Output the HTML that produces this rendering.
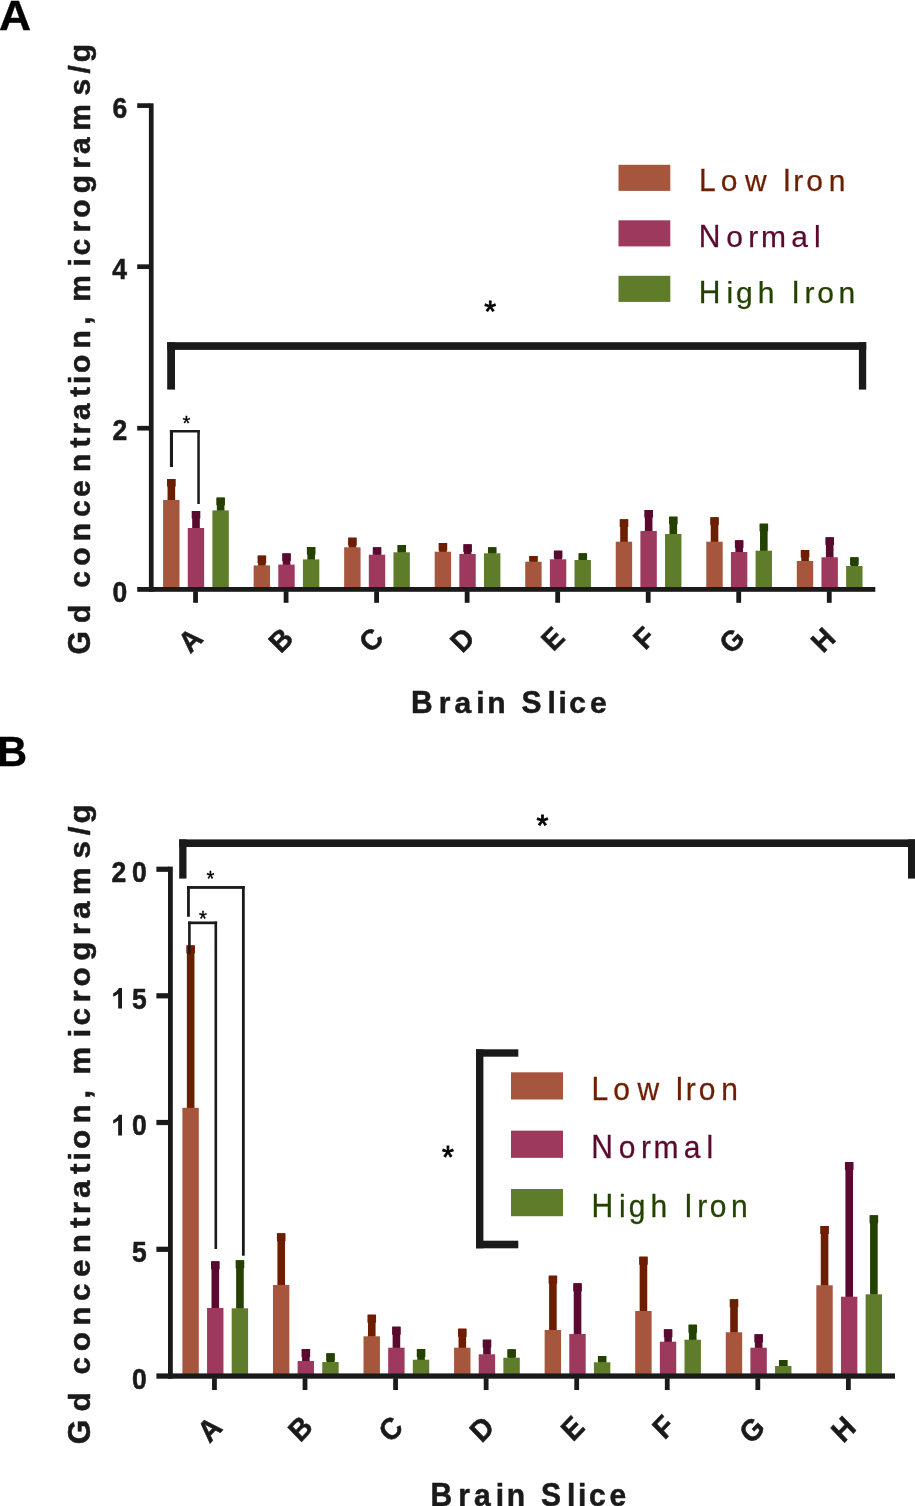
<!DOCTYPE html>
<html><head><meta charset="utf-8"><title>Figure</title>
<style>
html,body{margin:0;padding:0;background:#fff;}
body{width:915px;height:1506px;overflow:hidden;font-family:"Liberation Sans",sans-serif;}
svg{display:block;will-change:transform;}
svg text{font-family:"Liberation Sans",sans-serif;white-space:pre;}
</style></head><body>
<svg width="915" height="1506" viewBox="0 0 915 1506">
<rect x="0" y="0" width="915" height="1506" fill="#ffffff"/>
<rect x="148.90" y="103.30" width="4.70" height="488.50" fill="#1a1a1a"/>
<rect x="137.20" y="103.25" width="12.70" height="4.70" fill="#1a1a1a"/>
<rect x="137.20" y="264.35" width="12.70" height="4.70" fill="#1a1a1a"/>
<rect x="137.20" y="425.85" width="12.70" height="4.70" fill="#1a1a1a"/>
<rect x="167.55" y="479.00" width="7.60" height="21.50" fill="#6E1E00"/>
<rect x="167.05" y="479.00" width="8.60" height="7.60" fill="#6E1E00"/>
<rect x="163.10" y="500.00" width="16.40" height="87.50" fill="#A5563D"/>
<rect x="192.20" y="511.00" width="7.60" height="17.50" fill="#5A0A2E"/>
<rect x="191.70" y="511.00" width="8.60" height="7.60" fill="#5A0A2E"/>
<rect x="187.75" y="528.00" width="16.40" height="59.50" fill="#9E395E"/>
<rect x="216.85" y="497.60" width="7.60" height="13.30" fill="#244100"/>
<rect x="216.35" y="497.60" width="8.60" height="7.60" fill="#244100"/>
<rect x="212.40" y="510.40" width="16.40" height="77.10" fill="#5E7C2A"/>
<rect x="193.15" y="591.30" width="4.80" height="11.50" fill="#1a1a1a"/>
<rect x="258.08" y="555.60" width="7.60" height="10.30" fill="#6E1E00"/>
<rect x="257.58" y="555.60" width="8.60" height="7.60" fill="#6E1E00"/>
<rect x="253.63" y="565.40" width="16.40" height="22.10" fill="#A5563D"/>
<rect x="282.73" y="553.40" width="7.60" height="11.70" fill="#5A0A2E"/>
<rect x="282.23" y="553.40" width="8.60" height="7.60" fill="#5A0A2E"/>
<rect x="278.28" y="564.60" width="16.40" height="22.90" fill="#9E395E"/>
<rect x="307.38" y="547.00" width="7.60" height="12.90" fill="#244100"/>
<rect x="306.88" y="547.00" width="8.60" height="7.60" fill="#244100"/>
<rect x="302.93" y="559.40" width="16.40" height="28.10" fill="#5E7C2A"/>
<rect x="283.68" y="591.30" width="4.80" height="11.50" fill="#1a1a1a"/>
<rect x="348.61" y="537.70" width="7.60" height="10.10" fill="#6E1E00"/>
<rect x="348.11" y="537.70" width="8.60" height="7.60" fill="#6E1E00"/>
<rect x="344.16" y="547.30" width="16.40" height="40.20" fill="#A5563D"/>
<rect x="373.26" y="547.30" width="7.60" height="7.90" fill="#5A0A2E"/>
<rect x="372.76" y="547.30" width="8.60" height="7.40" fill="#5A0A2E"/>
<rect x="368.81" y="554.70" width="16.40" height="32.80" fill="#9E395E"/>
<rect x="397.91" y="545.00" width="7.60" height="7.80" fill="#244100"/>
<rect x="397.41" y="545.00" width="8.60" height="7.30" fill="#244100"/>
<rect x="393.46" y="552.30" width="16.40" height="35.20" fill="#5E7C2A"/>
<rect x="374.21" y="591.30" width="4.80" height="11.50" fill="#1a1a1a"/>
<rect x="439.14" y="543.00" width="7.60" height="9.20" fill="#6E1E00"/>
<rect x="438.64" y="543.00" width="8.60" height="7.60" fill="#6E1E00"/>
<rect x="434.69" y="551.70" width="16.40" height="35.80" fill="#A5563D"/>
<rect x="463.79" y="544.30" width="7.60" height="10.20" fill="#5A0A2E"/>
<rect x="463.29" y="544.30" width="8.60" height="7.60" fill="#5A0A2E"/>
<rect x="459.34" y="554.00" width="16.40" height="33.50" fill="#9E395E"/>
<rect x="488.44" y="547.30" width="7.60" height="6.50" fill="#244100"/>
<rect x="487.94" y="547.30" width="8.60" height="6.00" fill="#244100"/>
<rect x="483.99" y="553.30" width="16.40" height="34.20" fill="#5E7C2A"/>
<rect x="464.74" y="591.30" width="4.80" height="11.50" fill="#1a1a1a"/>
<rect x="529.67" y="556.00" width="7.60" height="6.20" fill="#6E1E00"/>
<rect x="529.17" y="556.00" width="8.60" height="5.70" fill="#6E1E00"/>
<rect x="525.22" y="561.70" width="16.40" height="25.80" fill="#A5563D"/>
<rect x="554.32" y="550.70" width="7.60" height="9.10" fill="#5A0A2E"/>
<rect x="553.82" y="550.70" width="8.60" height="7.60" fill="#5A0A2E"/>
<rect x="549.87" y="559.30" width="16.40" height="28.20" fill="#9E395E"/>
<rect x="578.97" y="553.30" width="7.60" height="7.20" fill="#244100"/>
<rect x="578.47" y="553.30" width="8.60" height="6.70" fill="#244100"/>
<rect x="574.52" y="560.00" width="16.40" height="27.50" fill="#5E7C2A"/>
<rect x="555.27" y="591.30" width="4.80" height="11.50" fill="#1a1a1a"/>
<rect x="620.20" y="519.30" width="7.60" height="22.90" fill="#6E1E00"/>
<rect x="619.70" y="519.30" width="8.60" height="7.60" fill="#6E1E00"/>
<rect x="615.75" y="541.70" width="16.40" height="45.80" fill="#A5563D"/>
<rect x="644.85" y="510.00" width="7.60" height="21.50" fill="#5A0A2E"/>
<rect x="644.35" y="510.00" width="8.60" height="7.60" fill="#5A0A2E"/>
<rect x="640.40" y="531.00" width="16.40" height="56.50" fill="#9E395E"/>
<rect x="669.50" y="516.70" width="7.60" height="17.80" fill="#244100"/>
<rect x="669.00" y="516.70" width="8.60" height="7.60" fill="#244100"/>
<rect x="665.05" y="534.00" width="16.40" height="53.50" fill="#5E7C2A"/>
<rect x="645.80" y="591.30" width="4.80" height="11.50" fill="#1a1a1a"/>
<rect x="710.73" y="517.30" width="7.60" height="24.90" fill="#6E1E00"/>
<rect x="710.23" y="517.30" width="8.60" height="7.60" fill="#6E1E00"/>
<rect x="706.28" y="541.70" width="16.40" height="45.80" fill="#A5563D"/>
<rect x="735.38" y="540.30" width="7.60" height="12.20" fill="#5A0A2E"/>
<rect x="734.88" y="540.30" width="8.60" height="7.60" fill="#5A0A2E"/>
<rect x="730.93" y="552.00" width="16.40" height="35.50" fill="#9E395E"/>
<rect x="760.03" y="523.70" width="7.60" height="27.50" fill="#244100"/>
<rect x="759.53" y="523.70" width="8.60" height="7.60" fill="#244100"/>
<rect x="755.58" y="550.70" width="16.40" height="36.80" fill="#5E7C2A"/>
<rect x="736.33" y="591.30" width="4.80" height="11.50" fill="#1a1a1a"/>
<rect x="801.26" y="550.00" width="7.60" height="11.50" fill="#6E1E00"/>
<rect x="800.76" y="550.00" width="8.60" height="7.60" fill="#6E1E00"/>
<rect x="796.81" y="561.00" width="16.40" height="26.50" fill="#A5563D"/>
<rect x="825.91" y="537.30" width="7.60" height="20.50" fill="#5A0A2E"/>
<rect x="825.41" y="537.30" width="8.60" height="7.60" fill="#5A0A2E"/>
<rect x="821.46" y="557.30" width="16.40" height="30.20" fill="#9E395E"/>
<rect x="850.56" y="557.30" width="7.60" height="9.20" fill="#244100"/>
<rect x="850.06" y="557.30" width="8.60" height="7.60" fill="#244100"/>
<rect x="846.11" y="566.00" width="16.40" height="21.50" fill="#5E7C2A"/>
<rect x="826.86" y="591.30" width="4.80" height="11.50" fill="#1a1a1a"/>
<rect x="137.20" y="587.00" width="738.10" height="4.80" fill="#1a1a1a"/>
<rect x="167.20" y="342.20" width="699.00" height="7.70" fill="#1a1a1a"/>
<rect x="167.20" y="342.20" width="7.80" height="47.40" fill="#1a1a1a"/>
<rect x="858.90" y="342.20" width="7.30" height="47.40" fill="#1a1a1a"/>
<rect x="169.90" y="430.00" width="29.90" height="2.50" fill="#1a1a1a"/>
<rect x="169.90" y="430.00" width="3.10" height="37.00" fill="#1a1a1a"/>
<rect x="197.30" y="430.00" width="2.50" height="74.00" fill="#1a1a1a"/>
<rect x="168.00" y="866.60" width="4.80" height="512.10" fill="#1a1a1a"/>
<rect x="156.40" y="866.65" width="12.60" height="5.20" fill="#1a1a1a"/>
<rect x="156.40" y="993.20" width="12.60" height="5.20" fill="#1a1a1a"/>
<rect x="156.40" y="1119.90" width="12.60" height="5.20" fill="#1a1a1a"/>
<rect x="156.40" y="1246.70" width="12.60" height="5.20" fill="#1a1a1a"/>
<rect x="186.85" y="945.40" width="7.60" height="162.90" fill="#6E1E00"/>
<rect x="186.35" y="945.40" width="8.60" height="8.00" fill="#6E1E00"/>
<rect x="182.40" y="1107.80" width="16.40" height="266.10" fill="#A5563D"/>
<rect x="211.50" y="1261.30" width="7.60" height="47.20" fill="#5A0A2E"/>
<rect x="211.00" y="1261.30" width="8.60" height="8.00" fill="#5A0A2E"/>
<rect x="207.05" y="1308.00" width="16.40" height="65.90" fill="#9E395E"/>
<rect x="236.15" y="1260.30" width="7.60" height="48.50" fill="#244100"/>
<rect x="235.65" y="1260.30" width="8.60" height="8.00" fill="#244100"/>
<rect x="231.70" y="1308.30" width="16.40" height="65.60" fill="#5E7C2A"/>
<rect x="212.05" y="1378.20" width="4.80" height="11.80" fill="#1a1a1a"/>
<rect x="277.41" y="1233.30" width="7.60" height="52.20" fill="#6E1E00"/>
<rect x="276.91" y="1233.30" width="8.60" height="8.00" fill="#6E1E00"/>
<rect x="272.96" y="1285.00" width="16.40" height="88.90" fill="#A5563D"/>
<rect x="302.06" y="1349.00" width="7.60" height="12.50" fill="#5A0A2E"/>
<rect x="301.56" y="1349.00" width="8.60" height="8.00" fill="#5A0A2E"/>
<rect x="297.61" y="1361.00" width="16.40" height="12.90" fill="#9E395E"/>
<rect x="326.71" y="1353.30" width="7.60" height="9.20" fill="#244100"/>
<rect x="326.21" y="1353.30" width="8.60" height="8.00" fill="#244100"/>
<rect x="322.26" y="1362.00" width="16.40" height="11.90" fill="#5E7C2A"/>
<rect x="302.61" y="1378.20" width="4.80" height="11.80" fill="#1a1a1a"/>
<rect x="367.97" y="1314.70" width="7.60" height="22.10" fill="#6E1E00"/>
<rect x="367.47" y="1314.70" width="8.60" height="8.00" fill="#6E1E00"/>
<rect x="363.52" y="1336.30" width="16.40" height="37.60" fill="#A5563D"/>
<rect x="392.62" y="1326.70" width="7.60" height="21.50" fill="#5A0A2E"/>
<rect x="392.12" y="1326.70" width="8.60" height="8.00" fill="#5A0A2E"/>
<rect x="388.17" y="1347.70" width="16.40" height="26.20" fill="#9E395E"/>
<rect x="417.27" y="1349.00" width="7.60" height="11.20" fill="#244100"/>
<rect x="416.77" y="1349.00" width="8.60" height="8.00" fill="#244100"/>
<rect x="412.82" y="1359.70" width="16.40" height="14.20" fill="#5E7C2A"/>
<rect x="393.17" y="1378.20" width="4.80" height="11.80" fill="#1a1a1a"/>
<rect x="458.53" y="1328.70" width="7.60" height="19.50" fill="#6E1E00"/>
<rect x="458.03" y="1328.70" width="8.60" height="8.00" fill="#6E1E00"/>
<rect x="454.08" y="1347.70" width="16.40" height="26.20" fill="#A5563D"/>
<rect x="483.18" y="1339.70" width="7.60" height="15.10" fill="#5A0A2E"/>
<rect x="482.68" y="1339.70" width="8.60" height="8.00" fill="#5A0A2E"/>
<rect x="478.73" y="1354.30" width="16.40" height="19.60" fill="#9E395E"/>
<rect x="507.83" y="1349.30" width="7.60" height="8.90" fill="#244100"/>
<rect x="507.33" y="1349.30" width="8.60" height="8.00" fill="#244100"/>
<rect x="503.38" y="1357.70" width="16.40" height="16.20" fill="#5E7C2A"/>
<rect x="483.73" y="1378.20" width="4.80" height="11.80" fill="#1a1a1a"/>
<rect x="549.09" y="1275.70" width="7.60" height="54.80" fill="#6E1E00"/>
<rect x="548.59" y="1275.70" width="8.60" height="8.00" fill="#6E1E00"/>
<rect x="544.64" y="1330.00" width="16.40" height="43.90" fill="#A5563D"/>
<rect x="573.74" y="1283.30" width="7.60" height="51.20" fill="#5A0A2E"/>
<rect x="573.24" y="1283.30" width="8.60" height="8.00" fill="#5A0A2E"/>
<rect x="569.29" y="1334.00" width="16.40" height="39.90" fill="#9E395E"/>
<rect x="598.39" y="1356.00" width="7.60" height="6.80" fill="#244100"/>
<rect x="597.89" y="1356.00" width="8.60" height="6.30" fill="#244100"/>
<rect x="593.94" y="1362.30" width="16.40" height="11.60" fill="#5E7C2A"/>
<rect x="574.29" y="1378.20" width="4.80" height="11.80" fill="#1a1a1a"/>
<rect x="639.65" y="1256.70" width="7.60" height="54.80" fill="#6E1E00"/>
<rect x="639.15" y="1256.70" width="8.60" height="8.00" fill="#6E1E00"/>
<rect x="635.20" y="1311.00" width="16.40" height="62.90" fill="#A5563D"/>
<rect x="664.30" y="1329.30" width="7.60" height="12.90" fill="#5A0A2E"/>
<rect x="663.80" y="1329.30" width="8.60" height="8.00" fill="#5A0A2E"/>
<rect x="659.85" y="1341.70" width="16.40" height="32.20" fill="#9E395E"/>
<rect x="688.95" y="1324.70" width="7.60" height="15.50" fill="#244100"/>
<rect x="688.45" y="1324.70" width="8.60" height="8.00" fill="#244100"/>
<rect x="684.50" y="1339.70" width="16.40" height="34.20" fill="#5E7C2A"/>
<rect x="664.85" y="1378.20" width="4.80" height="11.80" fill="#1a1a1a"/>
<rect x="730.21" y="1299.30" width="7.60" height="33.50" fill="#6E1E00"/>
<rect x="729.71" y="1299.30" width="8.60" height="8.00" fill="#6E1E00"/>
<rect x="725.76" y="1332.30" width="16.40" height="41.60" fill="#A5563D"/>
<rect x="754.86" y="1334.30" width="7.60" height="13.90" fill="#5A0A2E"/>
<rect x="754.36" y="1334.30" width="8.60" height="8.00" fill="#5A0A2E"/>
<rect x="750.41" y="1347.70" width="16.40" height="26.20" fill="#9E395E"/>
<rect x="779.51" y="1360.00" width="7.60" height="6.50" fill="#244100"/>
<rect x="779.01" y="1360.00" width="8.60" height="6.00" fill="#244100"/>
<rect x="775.06" y="1366.00" width="16.40" height="7.90" fill="#5E7C2A"/>
<rect x="755.41" y="1378.20" width="4.80" height="11.80" fill="#1a1a1a"/>
<rect x="820.77" y="1226.00" width="7.60" height="59.80" fill="#6E1E00"/>
<rect x="820.27" y="1226.00" width="8.60" height="8.00" fill="#6E1E00"/>
<rect x="816.32" y="1285.30" width="16.40" height="88.60" fill="#A5563D"/>
<rect x="845.42" y="1162.00" width="7.60" height="135.20" fill="#5A0A2E"/>
<rect x="844.92" y="1162.00" width="8.60" height="8.00" fill="#5A0A2E"/>
<rect x="840.97" y="1296.70" width="16.40" height="77.20" fill="#9E395E"/>
<rect x="870.07" y="1215.30" width="7.60" height="79.50" fill="#244100"/>
<rect x="869.57" y="1215.30" width="8.60" height="8.00" fill="#244100"/>
<rect x="865.62" y="1294.30" width="16.40" height="79.60" fill="#5E7C2A"/>
<rect x="845.97" y="1378.20" width="4.80" height="11.80" fill="#1a1a1a"/>
<rect x="156.40" y="1373.40" width="738.60" height="5.30" fill="#1a1a1a"/>
<rect x="179.20" y="839.40" width="735.80" height="7.60" fill="#1a1a1a"/>
<rect x="179.20" y="839.40" width="7.30" height="39.20" fill="#1a1a1a"/>
<rect x="908.00" y="839.40" width="7.00" height="39.20" fill="#1a1a1a"/>
<rect x="187.05" y="886.05" width="57.70" height="2.80" fill="#1a1a1a"/>
<rect x="187.05" y="886.05" width="2.80" height="30.75" fill="#1a1a1a"/>
<rect x="241.95" y="886.05" width="2.80" height="369.65" fill="#1a1a1a"/>
<rect x="188.10" y="921.50" width="29.00" height="2.70" fill="#1a1a1a"/>
<rect x="188.10" y="921.50" width="2.60" height="32.10" fill="#1a1a1a"/>
<rect x="214.50" y="921.50" width="2.60" height="327.50" fill="#1a1a1a"/>
<rect x="476.00" y="1049.30" width="7.40" height="199.00" fill="#1a1a1a"/>
<rect x="476.00" y="1049.30" width="42.30" height="7.40" fill="#1a1a1a"/>
<rect x="476.00" y="1240.70" width="42.30" height="7.60" fill="#1a1a1a"/>
<rect x="618.50" y="164.80" width="51.80" height="26.10" fill="#A5563D"/>
<rect x="511.00" y="1072.30" width="52.00" height="27.20" fill="#A5563D"/>
<rect x="618.50" y="220.30" width="51.80" height="26.10" fill="#9E395E"/>
<rect x="511.00" y="1130.65" width="52.00" height="27.20" fill="#9E395E"/>
<rect x="618.50" y="275.80" width="51.80" height="26.10" fill="#5E7C2A"/>
<rect x="511.00" y="1189.00" width="52.00" height="27.20" fill="#5E7C2A"/>
<text transform="translate(0 191.30) scale(1 1.0400)" x="698.94 782.73" y="0" font-size="30" font-weight="normal" fill="#6E1E00" stroke="#6E1E00" stroke-width="0.25">LI</text>
<text transform="translate(0 191.30) scale(1 1.0000)" x="720.74 744.94 793.21 806.14 828.71" y="0" font-size="30" font-weight="normal" fill="#6E1E00" stroke="#6E1E00" stroke-width="0.25">owron</text>
<text transform="translate(0 1100.30) scale(1 1.0908)" x="591.54 675.33" y="0" font-size="30" font-weight="normal" fill="#6E1E00" stroke="#6E1E00" stroke-width="0.25">LI</text>
<text transform="translate(0 1100.30) scale(1 1.0488)" x="613.34 637.54 685.81 698.74 721.31" y="0" font-size="30" font-weight="normal" fill="#6E1E00" stroke="#6E1E00" stroke-width="0.25">owron</text>
<text transform="translate(0 246.60) scale(1 1.0400)" x="698.74" y="0" font-size="30" font-weight="normal" fill="#5A0A2E" stroke="#5A0A2E" stroke-width="0.25">N</text>
<text transform="translate(0 246.60) scale(1 1.0000)" x="726.14 748.31 761.01 791.23 813.88" y="0" font-size="30" font-weight="normal" fill="#5A0A2E" stroke="#5A0A2E" stroke-width="0.25">ormal</text>
<text transform="translate(0 1157.80) scale(1 1.0908)" x="591.34" y="0" font-size="30" font-weight="normal" fill="#5A0A2E" stroke="#5A0A2E" stroke-width="0.25">N</text>
<text transform="translate(0 1157.80) scale(1 1.0488)" x="618.74 640.91 653.61 683.83 706.48" y="0" font-size="30" font-weight="normal" fill="#5A0A2E" stroke="#5A0A2E" stroke-width="0.25">ormal</text>
<text transform="translate(0 303.00) scale(1 1.0400)" x="698.84 791.63" y="0" font-size="30" font-weight="normal" fill="#244100" stroke="#244100" stroke-width="0.25">HI</text>
<text transform="translate(0 303.00) scale(1 1.0000)" x="726.49 736.04 757.82 804.61 817.14 838.41" y="0" font-size="30" font-weight="normal" fill="#244100" stroke="#244100" stroke-width="0.25">ighron</text>
<text transform="translate(0 1216.90) scale(1 1.0908)" x="591.44 684.23" y="0" font-size="30" font-weight="normal" fill="#244100" stroke="#244100" stroke-width="0.25">HI</text>
<text transform="translate(0 1216.90) scale(1 1.0488)" x="619.09 628.64 650.42 697.21 709.74 731.01" y="0" font-size="30" font-weight="normal" fill="#244100" stroke="#244100" stroke-width="0.25">ighron</text>
<text transform="translate(112.47 117.65) scale(1 1.085)" x="0" y="0" font-size="26.5" font-weight="bold" fill="#1a1a1a" stroke="#1a1a1a" stroke-width="0.5">6</text>
<text transform="translate(112.35 278.80) scale(1 1.085)" x="0" y="0" font-size="26.5" font-weight="bold" fill="#1a1a1a" stroke="#1a1a1a" stroke-width="0.5">4</text>
<text transform="translate(112.55 440.30) scale(1 1.085)" x="0" y="0" font-size="26.5" font-weight="bold" fill="#1a1a1a" stroke="#1a1a1a" stroke-width="0.5">2</text>
<text transform="translate(112.50 601.55) scale(1 1.085)" x="0" y="0" font-size="26.5" font-weight="bold" fill="#1a1a1a" stroke="#1a1a1a" stroke-width="0.5">0</text>
<text transform="translate(131.95 881.60) scale(1 1.14)" x="0" y="0" font-size="26.5" font-weight="bold" fill="#1a1a1a" stroke="#1a1a1a" stroke-width="0.5">0</text>
<text transform="translate(111.50 881.60) scale(1 1.14)" x="0" y="0" font-size="26.5" font-weight="bold" fill="#1a1a1a" stroke="#1a1a1a" stroke-width="0.5">2</text>
<text transform="translate(131.89 1008.60) scale(1 1.14)" x="0" y="0" font-size="26.5" font-weight="bold" fill="#1a1a1a" stroke="#1a1a1a" stroke-width="0.5">5</text>
<path transform="translate(110.99 1008.60) scale(0.01367 -0.01400)" d="M806 0H525V1059Q371 915 162 846V1101Q272 1137 401 1237.5Q530 1338 578 1472H806Z" fill="#1a1a1a"/>
<text transform="translate(131.95 1135.40) scale(1 1.14)" x="0" y="0" font-size="26.5" font-weight="bold" fill="#1a1a1a" stroke="#1a1a1a" stroke-width="0.5">0</text>
<path transform="translate(110.99 1135.40) scale(0.01367 -0.01400)" d="M806 0H525V1059Q371 915 162 846V1101Q272 1137 401 1237.5Q530 1338 578 1472H806Z" fill="#1a1a1a"/>
<text transform="translate(131.89 1262.30) scale(1 1.14)" x="0" y="0" font-size="26.5" font-weight="bold" fill="#1a1a1a" stroke="#1a1a1a" stroke-width="0.5">5</text>
<text transform="translate(131.95 1389.30) scale(1 1.14)" x="0" y="0" font-size="26.5" font-weight="bold" fill="#1a1a1a" stroke="#1a1a1a" stroke-width="0.5">0</text>
<text transform="translate(190.20 640.20) scale(1 1.0) rotate(-45) scale(1 1.04)" x="-10.00" y="9.53" font-size="27.7" font-weight="bold" fill="#1a1a1a" stroke="#1a1a1a" stroke-width="0.5">A</text>
<text transform="translate(209.60 1429.20) scale(1 1.0488) rotate(-45) scale(1 1.04)" x="-10.00" y="9.53" font-size="27.7" font-weight="bold" fill="#1a1a1a" stroke="#1a1a1a" stroke-width="0.5">A</text>
<text transform="translate(280.80 640.10) scale(1 1.0) rotate(-45) scale(1 1.04)" x="-10.00" y="9.53" font-size="27.7" font-weight="bold" fill="#1a1a1a" stroke="#1a1a1a" stroke-width="0.5">B</text>
<text transform="translate(300.20 1428.50) scale(1 1.0488) rotate(-45) scale(1 1.04)" x="-10.00" y="9.53" font-size="27.7" font-weight="bold" fill="#1a1a1a" stroke="#1a1a1a" stroke-width="0.5">B</text>
<text transform="translate(371.10 639.90) scale(1 1.0) rotate(-45) scale(1 1.04)" x="-10.00" y="9.53" font-size="27.7" font-weight="bold" fill="#1a1a1a" stroke="#1a1a1a" stroke-width="0.5">C</text>
<text transform="translate(390.50 1429.10) scale(1 1.0488) rotate(-45) scale(1 1.04)" x="-10.00" y="9.53" font-size="27.7" font-weight="bold" fill="#1a1a1a" stroke="#1a1a1a" stroke-width="0.5">C</text>
<text transform="translate(462.20 639.90) scale(1 1.0) rotate(-45) scale(1 1.04)" x="-10.00" y="9.53" font-size="27.7" font-weight="bold" fill="#1a1a1a" stroke="#1a1a1a" stroke-width="0.5">D</text>
<text transform="translate(481.90 1429.00) scale(1 1.0488) rotate(-45) scale(1 1.04)" x="-10.00" y="9.53" font-size="27.7" font-weight="bold" fill="#1a1a1a" stroke="#1a1a1a" stroke-width="0.5">D</text>
<text transform="translate(552.70 638.70) scale(1 1.0) rotate(-45) scale(1 1.04)" x="-9.24" y="9.53" font-size="27.7" font-weight="bold" fill="#1a1a1a" stroke="#1a1a1a" stroke-width="0.5">E</text>
<text transform="translate(572.60 1428.20) scale(1 1.0488) rotate(-45) scale(1 1.04)" x="-9.24" y="9.53" font-size="27.7" font-weight="bold" fill="#1a1a1a" stroke="#1a1a1a" stroke-width="0.5">E</text>
<text transform="translate(644.10 638.00) scale(1 1.0) rotate(-45) scale(1 1.04)" x="-8.46" y="9.53" font-size="27.7" font-weight="bold" fill="#1a1a1a" stroke="#1a1a1a" stroke-width="0.5">F</text>
<text transform="translate(663.50 1426.90) scale(1 1.0488) rotate(-45) scale(1 1.04)" x="-8.46" y="9.53" font-size="27.7" font-weight="bold" fill="#1a1a1a" stroke="#1a1a1a" stroke-width="0.5">F</text>
<text transform="translate(731.80 640.50) scale(1 1.0) rotate(-45) scale(1 1.04)" x="-10.77" y="9.53" font-size="27.7" font-weight="bold" fill="#1a1a1a" stroke="#1a1a1a" stroke-width="0.5">G</text>
<text transform="translate(751.80 1429.80) scale(1 1.0488) rotate(-45) scale(1 1.04)" x="-10.77" y="9.53" font-size="27.7" font-weight="bold" fill="#1a1a1a" stroke="#1a1a1a" stroke-width="0.5">G</text>
<text transform="translate(823.10 640.00) scale(1 1.0) rotate(-45) scale(1 1.04)" x="-10.00" y="9.53" font-size="27.7" font-weight="bold" fill="#1a1a1a" stroke="#1a1a1a" stroke-width="0.5">H</text>
<text transform="translate(843.20 1429.30) scale(1 1.0488) rotate(-45) scale(1 1.04)" x="-10.00" y="9.53" font-size="27.7" font-weight="bold" fill="#1a1a1a" stroke="#1a1a1a" stroke-width="0.5">H</text>
<text transform="translate(0 712.60) scale(1 1.0400)" x="410.99 521.44" y="0" font-size="30" font-weight="bold" fill="#1a1a1a" stroke="#1a1a1a" stroke-width="0.5">BS</text>
<text transform="translate(0 712.60) scale(1 1.0000)" x="438.72 454.52 476.21 487.22 547.41 558.51 569.33 589.93" y="0" font-size="30" font-weight="bold" fill="#1a1a1a" stroke="#1a1a1a" stroke-width="0.5">rainlice</text>
<text transform="translate(0 1506.30) scale(1 1.0908)" x="430.59 541.04" y="0" font-size="30" font-weight="bold" fill="#1a1a1a" stroke="#1a1a1a" stroke-width="0.5">BS</text>
<text transform="translate(0 1506.30) scale(1 1.0488)" x="458.32 474.12 495.81 506.82 567.01 578.11 588.93 609.53" y="0" font-size="30" font-weight="bold" fill="#1a1a1a" stroke="#1a1a1a" stroke-width="0.5">rainlice</text>
<text transform="translate(89.50 0) rotate(-90) scale(1.0 1.04)" x="-654.43" y="0" font-size="30" font-weight="bold" fill="#1a1a1a" stroke="#1a1a1a" stroke-width="0.5">G</text>
<text transform="translate(89.50 0) rotate(-90) scale(1.0 1.0)" x="-623.03 -587.67 -565.77 -541.18 -516.97 -497.07 -471.98 -447.47 -434.58 -420.08 -396.67 -383.89 -373.07 -348.48 -324.64 -301.63 -266.39 -255.47 -232.58 -217.67 -193.33 -168.68 -154.08 -130.78 -95.55 -73.39 -62.33" y="0" font-size="30" font-weight="bold" fill="#1a1a1a" stroke="#1a1a1a" stroke-width="0.5">dconcentration,micrograms/g</text>
<text transform="translate(89.50 0) rotate(-90) scale(1.0488 1.04)" x="-1377.18" y="0" font-size="30" font-weight="bold" fill="#1a1a1a" stroke="#1a1a1a" stroke-width="0.5">G</text>
<text transform="translate(89.50 0) rotate(-90) scale(1.0488 1.0)" x="-1345.91 -1310.67 -1288.36 -1263.99 -1240.40 -1217.61 -1194.96 -1170.75 -1157.68 -1142.28 -1119.45 -1106.69 -1095.57 -1071.20 -1047.52 -1024.67 -989.13 -977.81 -955.83 -940.72 -916.09 -891.66 -876.36 -853.71 -818.56 -796.44 -785.08" y="0" font-size="30" font-weight="bold" fill="#1a1a1a" stroke="#1a1a1a" stroke-width="0.5">dconcentration,micrograms/g</text>
<text transform="translate(-1.0 29.5) scale(1.076 1.04)" x="0" y="0" font-size="41.3" font-weight="bold" fill="#000" stroke="#000" stroke-width="0.4">A</text>
<text transform="translate(-2.8 765.9) scale(1 1.04)" x="0" y="0" font-size="41.3" font-weight="bold" fill="#000" stroke="#000" stroke-width="0.4">B</text>
<text transform="translate(490.10 321.25) scale(1 0.97)" x="0" y="0" font-size="30.5" font-weight="normal" fill="#000" stroke="#000" stroke-width="0.8" text-anchor="middle">*</text>
<text transform="translate(186.30 429.90) scale(1 1.0)" x="0" y="0" font-size="20.2" font-weight="normal" fill="#000" stroke="#000" stroke-width="0.3" text-anchor="middle">*</text>
<text transform="translate(542.50 835.06) scale(1 0.98)" x="0" y="0" font-size="30.5" font-weight="normal" fill="#000" stroke="#000" stroke-width="0.8" text-anchor="middle">*</text>
<text transform="translate(210.40 885.58) scale(1 1.0488)" x="0" y="0" font-size="20.2" font-weight="normal" fill="#000" stroke="#000" stroke-width="0.3" text-anchor="middle">*</text>
<text transform="translate(203.00 926.08) scale(1 1.0488)" x="0" y="0" font-size="20.2" font-weight="normal" fill="#000" stroke="#000" stroke-width="0.3" text-anchor="middle">*</text>
<text transform="translate(448.00 1167.78) scale(1 1.0)" x="0" y="0" font-size="30.5" font-weight="normal" fill="#000" stroke="#000" stroke-width="0.8" text-anchor="middle">*</text>
</svg>
</body></html>
